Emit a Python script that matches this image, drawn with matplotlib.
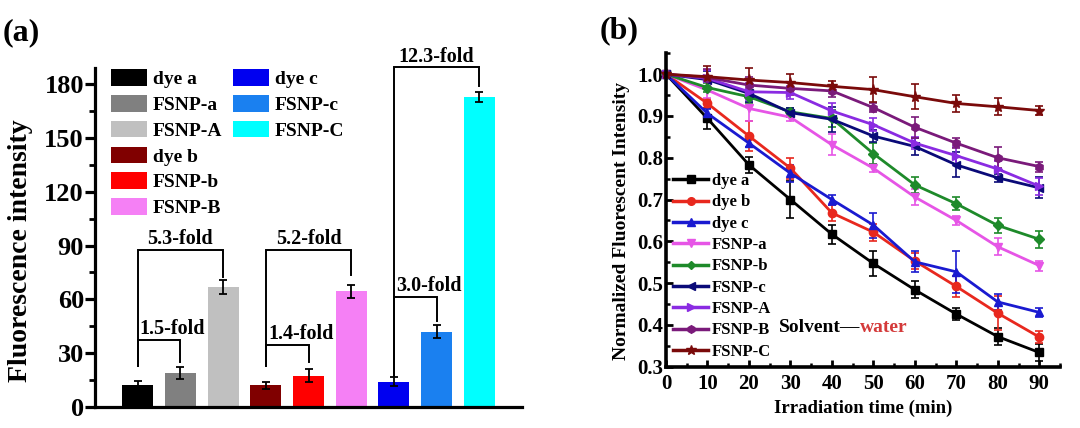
import matplotlib
matplotlib.use('Agg')
import matplotlib.pyplot as plt
from matplotlib.patches import Patch
from matplotlib.lines import Line2D
from matplotlib.ticker import MultipleLocator

plt.rcParams['font.family'] = ['Liberation Serif', 'DejaVu Serif']
plt.rcParams['font.weight'] = 'bold'
plt.rcParams['axes.labelweight'] = 'bold'

# ---------------- Panel (a) data ----------------
bar_labels = ['dye a', 'FSNP-a', 'FSNP-A', 'dye b', 'FSNP-b', 'FSNP-B', 'dye c', 'FSNP-c', 'FSNP-C']
bar_values = [12.5, 19.0, 67.0, 12.0, 17.5, 64.5, 14.0, 42.0, 173.0]
bar_errors = [2.0, 3.5, 4.0, 2.0, 3.8, 3.5, 2.5, 3.7, 2.7]
bar_colors = ['#000000', '#808080', '#c0c0c0', '#800000', '#ff0000', '#f580f5',
              '#0000f0', '#1a80f0', '#00ffff']
yticks_a = [0, 30, 60, 90, 120, 150, 180]

fold_labels = ['1.5-fold', '5.3-fold', '1.4-fold', '5.2-fold', '3.0-fold', '12.3-fold']
fold_pairs = [(0, 1), (0, 2), (3, 4), (3, 5), (6, 7), (6, 8)]
fold_levels = [37.5, 87.4, 34.8, 87.4, 61.3, 189.3]
fold_left_bottom = [23.0, 23.0, 23.0, 23.0, 17.5, 17.5]
fold_right_bottom = [25.0, 72.5, 25.0, 73.4, 48.0, 178.7]
fold_align = ['left', 'center', 'left', 'center', 'left', 'center']

# ---------------- Panel (b) data ----------------
time_min = [0, 10, 20, 30, 40, 50, 60, 70, 80, 90]
series_names = ['dye a', 'dye b', 'dye c', 'FSNP-a', 'FSNP-b', 'FSNP-c', 'FSNP-A', 'FSNP-B', 'FSNP-C']
dye_a = [1.0, 0.894, 0.783, 0.700, 0.617, 0.547, 0.484, 0.426, 0.372, 0.334]
dye_b = [1.0, 0.930, 0.852, 0.775, 0.668, 0.622, 0.553, 0.492, 0.428, 0.371]
dye_c = [1.0, 0.906, 0.835, 0.763, 0.700, 0.639, 0.551, 0.527, 0.455, 0.430]
fsnp_a = [1.0, 0.962, 0.918, 0.897, 0.831, 0.775, 0.706, 0.650, 0.587, 0.542]
fsnp_b = [1.0, 0.968, 0.946, 0.910, 0.894, 0.810, 0.735, 0.690, 0.638, 0.605]
fsnp_c = [1.0, 0.987, 0.954, 0.908, 0.892, 0.852, 0.827, 0.783, 0.752, 0.728]
fsnp_A = [1.0, 0.990, 0.958, 0.956, 0.912, 0.879, 0.835, 0.805, 0.773, 0.732]
fsnp_B = [1.0, 0.992, 0.974, 0.966, 0.960, 0.920, 0.873, 0.835, 0.800, 0.779]
fsnp_C = [1.0, 0.994, 0.986, 0.980, 0.971, 0.963, 0.946, 0.930, 0.922, 0.913]

dye_a_err = [0, 0.025, 0.020, 0.045, 0.023, 0.030, 0.020, 0.015, 0.020, 0.020]
dye_b_err = [0, 0.010, 0.035, 0.025, 0.020, 0.020, 0.020, 0.025, 0.040, 0.015]
dye_c_err = [0, 0.010, 0.010, 0.020, 0.012, 0.030, 0.025, 0.050, 0.020, 0.010]
fsnp_a_err = [0, 0.020, 0.030, 0.010, 0.025, 0.010, 0.020, 0.010, 0.020, 0.012]
fsnp_b_err = [0, 0.010, 0.015, 0.010, 0.020, 0.025, 0.020, 0.015, 0.018, 0.020]
fsnp_c_err = [0, 0.020, 0.020, 0.010, 0.030, 0.015, 0.020, 0.030, 0.010, 0.025]
fsnp_A_err = [0, 0.020, 0.020, 0.015, 0.020, 0.015, 0.015, 0.020, 0.020, 0.020]
fsnp_B_err = [0, 0.020, 0.020, 0.015, 0.015, 0.010, 0.025, 0.012, 0.025, 0.012]
fsnp_C_err = [0, 0.025, 0.030, 0.020, 0.012, 0.030, 0.030, 0.020, 0.020, 0.010]

series_values = [dye_a, dye_b, dye_c, fsnp_a, fsnp_b, fsnp_c, fsnp_A, fsnp_B, fsnp_C]
series_errors = [dye_a_err, dye_b_err, dye_c_err, fsnp_a_err, fsnp_b_err, fsnp_c_err,
                 fsnp_A_err, fsnp_B_err, fsnp_C_err]
series_colors = ['#000000', '#e8281e', '#1a1ad0', '#e655e6', '#1e8a2a', '#0a0a78',
                 '#8a2be2', '#7a1a7a', '#7a0a0a']
series_markers = ['s', 'o', '^', 'v', 'D', '<', '>', 'h', '*']

fig = plt.figure(figsize=(10.8, 4.28), dpi=100)

# ================= Panel (a) =================
axa = fig.add_axes([95 / 1080, 21 / 428, 427 / 1080, 339 / 428])
xpos = [i + 1 for i in range(len(bar_values))]
axa.bar(xpos, bar_values, width=0.73, color=bar_colors,
        yerr=bar_errors, error_kw=dict(ecolor='black', elinewidth=1.3, capsize=3, capthick=1.3))
axa.set_xlim(0, 10)
axa.set_ylim(0, 189)
axa.set_yticks(yticks_a)
axa.yaxis.set_minor_locator(MultipleLocator(15))
axa.set_xticks([])
for s in ['top', 'right']:
    axa.spines[s].set_visible(False)
for s in ['left', 'bottom']:
    axa.spines[s].set_linewidth(2.3)
axa.tick_params(axis='y', which='major', direction='out', length=7.5, width=2.3,
                labelsize=19, pad=0.5)
axa.tick_params(axis='y', which='minor', direction='out', length=4, width=2.0)
for lab in axa.get_yticklabels():
    lab.set_fontweight('bold')
axa.set_ylabel('Fluorescence intensity', fontsize=20, fontweight='bold')
axa.yaxis.set_label_coords(-0.145, 0.46)

for lab, (i, j), lev, lb, rb, al in zip(fold_labels, fold_pairs, fold_levels,
                                        fold_left_bottom, fold_right_bottom, fold_align):
    x1, x2 = xpos[i], xpos[j]
    axa.plot([x1, x1, x2, x2], [lb, lev, lev, rb], color='black', lw=1.4,
             clip_on=False, solid_joinstyle='miter')
    if al == 'left':
        tx = x1 + 0.05
    else:
        tx = (x1 + x2) / 2
    axa.text(tx, lev + 6.0, lab, ha=al, va='center', fontsize=14.5,
             fontweight='bold', clip_on=False)

handles_a = [Patch(facecolor=c, edgecolor='none') for c in bar_colors]
labels_a = list(bar_labels)
blank = Patch(facecolor='none', edgecolor='none')
handles_a += [blank, blank, blank]
labels_a += ['', '', '']
leg_a = axa.legend(handles_a, labels_a, ncol=2, loc='upper left',
                   bbox_to_anchor=(0.0375, 0.996), frameon=False, fontsize=14,
                   handlelength=1.85, handleheight=0.93, handletextpad=0.3,
                   labelspacing=0.35, columnspacing=0.55, borderpad=0, borderaxespad=0)
for t in leg_a.get_texts():
    t.set_fontweight('bold')

# ================= Panel (b) =================
axb = fig.add_axes([666 / 1080, 1 - 366.7 / 428, 394 / 1080, 313.4 / 428])
for name, vals, errs, col, mk in zip(series_names, series_values, series_errors,
                                     series_colors, series_markers):
    ms = 8 if mk == '*' else (5 if mk == 'D' else 6)
    axb.errorbar(time_min, vals, yerr=errs, color=col, marker=mk, ms=ms, lw=2.0,
                 elinewidth=1.2, capsize=3, capthick=1.2, label=name, clip_on=False)
axb.set_xlim(0, 95)
axb.set_ylim(0.3, 1.05)
axb.set_xticks(list(range(0, 91, 10)))
axb.set_yticks([0.3, 0.4, 0.5, 0.6, 0.7, 0.8, 0.9, 1.0])
axb.xaxis.set_minor_locator(MultipleLocator(5))
axb.yaxis.set_minor_locator(MultipleLocator(0.05))
for s in ['top', 'right']:
    axb.spines[s].set_visible(False)
for s in ['left', 'bottom']:
    axb.spines[s].set_linewidth(2.6)
axb.tick_params(axis='both', which='major', direction='in', length=5, width=2.0,
                labelsize=15)
axb.tick_params(axis='y', which='major', pad=2)
axb.tick_params(axis='x', which='major', pad=5)
axb.tick_params(axis='both', which='minor', direction='in', length=3, width=1.8)
for lab in axb.get_xticklabels() + axb.get_yticklabels():
    lab.set_fontweight('bold')
axb.set_ylabel('Normalized Fluorescent Intensity', fontsize=14, fontweight='bold')
axb.yaxis.set_label_coords(-0.092, 0.465)
axb.set_xlabel('Irradiation time (min)', fontsize=13.5, fontweight='bold')
axb.xaxis.set_label_coords(0.5, -0.105)

handles_b = [Line2D([0], [0], color=c, lw=2.5, marker=m,
                    ms=(7 if m == '*' else (4.5 if m == 'D' else 5.5)))
             for c, m in zip(series_colors, series_markers)]
leg_b = axb.legend(handles_b, series_names, loc='upper left', bbox_to_anchor=(0.018, 0.618),
                   frameon=False, fontsize=12, handlelength=2.1, handletextpad=0.25,
                   labelspacing=0.32, borderpad=0, borderaxespad=0, numpoints=1)
for t in leg_b.get_texts():
    t.set_fontweight('bold')

t1 = axb.text(27.2, 0.394, 'Solvent\u2014', fontsize=14, fontweight='bold',
              ha='left', va='center', color='black')
axb.annotate('water', xy=(1, 0), xycoords=t1, va='bottom', ha='left',
             fontsize=14, fontweight='bold', color='#d43a3a')

fig.text(3 / 1080, 1 - 33 / 428, '(a)', fontsize=23, fontweight='bold', va='center', ha='left')
fig.text(600 / 1080, 1 - 31 / 428, '(b)', fontsize=23, fontweight='bold', va='center', ha='left')

fig.savefig('out.png', dpi=100)
